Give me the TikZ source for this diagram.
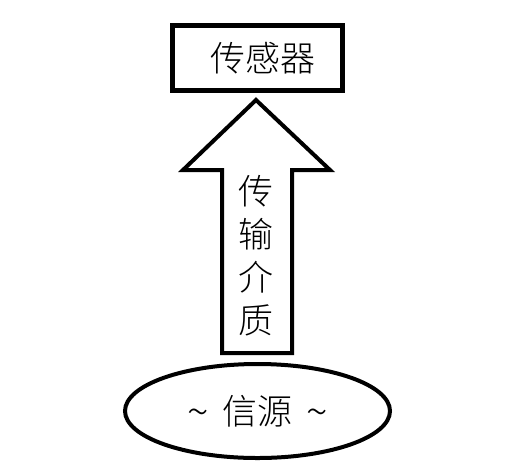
\documentclass[tikz,border=0pt]{standalone}
\usepackage{fontspec}
\newfontfamily\cjk{Noto Sans CJK SC Light}
\usetikzlibrary{positioning,shapes.geometric}
\newcommand{\wave}{\raisebox{-2pt}{\fontsize{40}{40}\selectfont\textasciitilde}}

\begin{document}
\begin{tikzpicture}[x=1pt, y=-1pt, every node/.style={font=\cjk\fontsize{35}{43}\selectfont}]
\useasboundingbox (0,0) rectangle (514,467);
% Sensor
\node[draw, line width=5pt, minimum width=170pt, minimum height=65pt] (sensor) at (257.5,58) {\hspace{10pt}传感器};
% Transmission medium arrow
\draw[line width=4pt, miter limit=10] (256,100) -- (330,170) -- (292,170) -- (292,353) -- (222,353) -- (222,170) -- (183,170) -- cycle;
\node[align=center] (medium) at (256,256) {传\\输\\介\\质};
% Source
\node[draw, ellipse, line width=4pt, minimum width=265pt, minimum height=94pt] (source) at (257.5,411) {\wave\hspace{14pt}信源\hspace{14pt}\wave};
\end{tikzpicture}
\end{document}
